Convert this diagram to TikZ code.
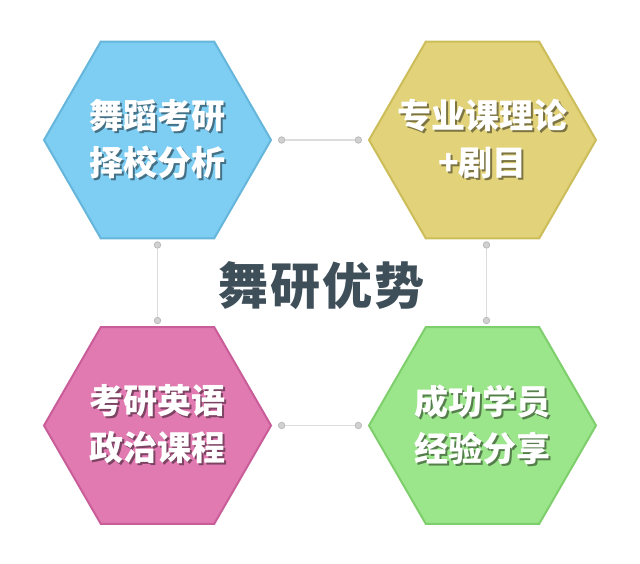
\documentclass[tikz,border=0pt]{standalone}
\usepackage{fontspec}
\usetikzlibrary{shapes.geometric, positioning}
\newfontfamily\cjk{Noto Sans CJK SC}
\newfontfamily\cjknegra{Noto Sans CJK SC}[UprightFont={* Black}, LetterSpace=4]
\definecolor{azul}{HTML}{7ECEF4}
\definecolor{azulborde}{HTML}{66B6DC}
\definecolor{amarillo}{HTML}{E2D279}
\definecolor{amarilloborde}{HTML}{CCBD5B}
\definecolor{rosa}{HTML}{E27AB2}
\definecolor{rosaborde}{HTML}{C95D99}
\definecolor{verde}{HTML}{9BE58A}
\definecolor{verdeborde}{HTML}{7ECF6C}
\definecolor{pizarra}{HTML}{3E4F5A}
\definecolor{gris}{HTML}{DCDCDC}
% Texto blanco con su sombra desplazada
\newcommand{\sombreado}[2]{\makebox[0pt][l]{\hspace{2pt}\raisebox{-2pt}{\textcolor{#1!55!black}{#2}}}#2}
\tikzset{
	hexa/.style={regular polygon, regular polygon sides=6, minimum size=227pt, inner sep=0pt, outer sep=0pt, line width=2pt}, % Hexagonos
	node distance=325pt, % Distancia entre centros de los hexagonos
	punto/.style={circle, fill=gris!95!black, draw=gris!85!black, line width=0.8pt, minimum size=6.5pt, inner sep=0pt}, % Circulitos de los conectores
	linea/.style={draw=gris, line width=1.4pt}, % Conectores
	texto/.style={font=\cjk\bfseries\fontsize{34}{47}\selectfont, align=center, text=white}, % Texto de los hexagonos
	titulo/.style={font=\cjknegra\fontsize{50}{50}\selectfont, text=pizarra} % Texto central
}

\begin{document}
\begin{tikzpicture}
				\useasboundingbox (0,0) rectangle (640pt,563pt);
				\node[hexa, fill=azul, draw=azulborde] (tl) at (157.5pt,423pt) {};
				\node[hexa, fill=amarillo, draw=amarilloborde, right of=tl] (tr) {};
				\node[hexa, fill=rosa, draw=rosaborde, below of=tl, node distance=285.5pt] (bl) {};
				\node[hexa, fill=verde, draw=verdeborde, right of=bl] (br) {};
				\node[texto] (tlt) at (tl) {\sombreado{azul}{舞蹈考研}\\\sombreado{azul}{择校分析}};
				\node[texto] (trt) at (tr) {\sombreado{amarillo}{专业课理论}\\\sombreado{amarillo}{+剧目}};
				\node[texto] (blt) at (bl) {\sombreado{rosa}{考研英语}\\\sombreado{rosa}{政治课程}};
				\node[texto] (brt) at (br) {\sombreado{verde}{成功学员}\\\sombreado{verde}{经验分享}};
				\node[titulo] (centro) at (321pt,277pt) {舞研优势};
				\node[punto, right=7pt of tl.east] (a1) {};
				\node[punto, left=7pt of tr.west] (a2) {};
				\node[punto, right=7pt of bl.east] (b1) {};
				\node[punto, left=7pt of br.west] (b2) {};
				\node[punto, below=3pt of tl.south] (c1) {};
				\node[punto, above=3pt of bl.north] (c2) {};
				\node[punto, below=3pt of tr.south, xshift=4pt] (d1) {};
				\node[punto, above=3pt of br.north, xshift=4pt] (d2) {};
				\draw[linea] (a1) -- (a2)
						(b1) -- (b2)
						(c1) -- (c2)
						(d1) -- (d2);
			\end{tikzpicture}
\end{document}
